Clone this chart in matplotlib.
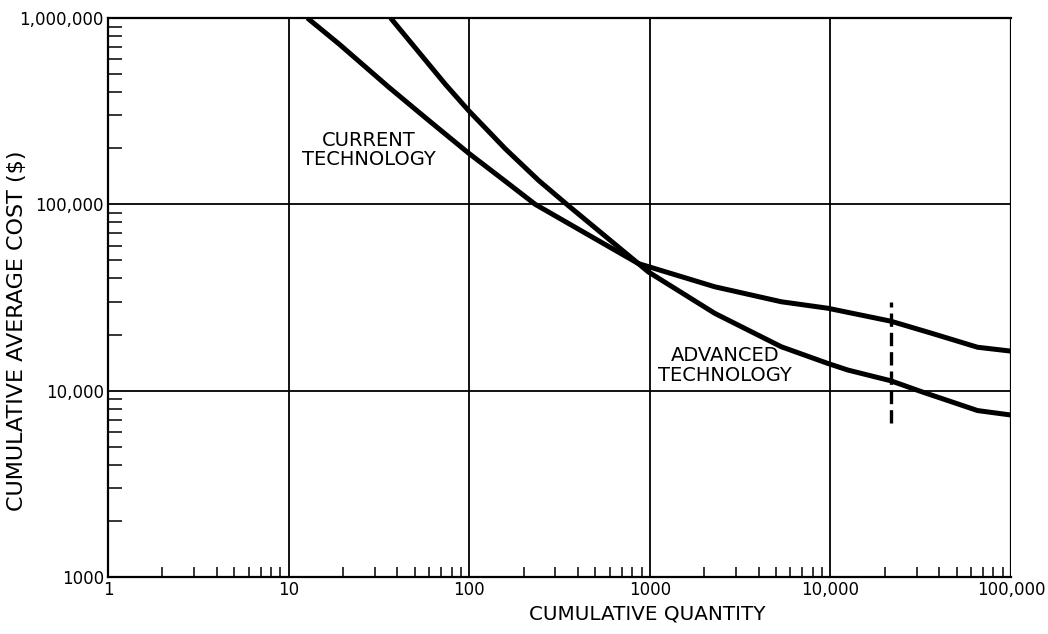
import matplotlib
matplotlib.use("Agg")
import matplotlib.pyplot as plt
from matplotlib.ticker import FixedLocator, LogLocator, NullFormatter

plt.rcParams['font.family'] = ['DejaVu Sans']

# Learning-curve estimates: cumulative quantity vs cumulative average cost ($)
current_qty = [12.7, 19.0, 35.9, 59.7, 99.4, 158.5, 232, 864, 2290, 5350,
               9660, 21600, 35900, 65300, 100000]
current_cost = [1000000, 726000, 425000, 282000, 188000, 133000, 100000,
                48100, 36100, 30000, 27700, 23600, 20400, 17100, 16300]

advanced_qty = [36.7, 54.8, 73.9, 99.4, 158.5, 242, 347, 864, 981, 2290,
                5350, 9680, 12500, 21600, 31800, 65300, 100000]
advanced_cost = [1000000, 625000, 440000, 318000, 198600, 134500, 100000,
                 48100, 43400, 26000, 17200, 14000, 12900, 11300, 9890,
                 7820, 7400]

# Dashed marker at the transition quantity
marker_qty = 21600
marker_cost_range = [6710, 29900]

x_ticks = [1, 10, 100, 1000, 10000, 100000]
x_tick_labels = ["1", "10", "100", "1000", "10,000", "100,000"]
y_ticks = [1000, 10000, 100000, 1000000]
y_tick_labels = ["1000", "10,000", "100,000", "1,000,000"]

fig = plt.figure(figsize=(10.48, 6.34), dpi=100)
ax = fig.add_axes([108 / 1048, 57 / 634, 903 / 1048, 559 / 634])
ax.set_xscale("log")
ax.set_yscale("log")
ax.set_xlim(1, 100000)
ax.set_ylim(1000, 1000000)

ax.plot(current_qty, current_cost, color="black", lw=3.6,
        solid_joinstyle="round", solid_capstyle="butt", zorder=3)
ax.plot(advanced_qty, advanced_cost, color="black", lw=3.6,
        solid_joinstyle="round", solid_capstyle="butt", zorder=3)
ax.plot([marker_qty, marker_qty], marker_cost_range, color="black",
        lw=2.4, dashes=(4.0, 1.8), zorder=3)

# Grid at the decades
for xv in x_ticks[1:-1]:
    ax.axvline(xv, color="black", lw=1.3, zorder=1)
ax.axvline(x_ticks[-1], color="black", lw=1.6, zorder=1)
for yv in y_ticks[1:-1]:
    ax.axhline(yv, color="black", lw=1.3, zorder=1)

for side in ["top", "bottom", "left", "right"]:
    ax.spines[side].set_linewidth(1.6)
ax.spines["right"].set_visible(False)

ax.xaxis.set_major_locator(FixedLocator(x_ticks))
ax.set_xticklabels(x_tick_labels)
ax.yaxis.set_major_locator(FixedLocator(y_ticks))
ax.set_yticklabels(y_tick_labels)
ax.xaxis.set_minor_locator(LogLocator(base=10, subs=range(2, 10)))
ax.yaxis.set_minor_locator(LogLocator(base=10, subs=range(2, 10)))
ax.xaxis.set_minor_formatter(NullFormatter())
ax.yaxis.set_minor_formatter(NullFormatter())

ax.tick_params(axis="both", which="major", length=0, labelsize=12, pad=3)
ax.tick_params(axis="x", which="minor", direction="in", length=7,
               width=1.1, top=False)
ax.tick_params(axis="y", which="minor", direction="in", length=10,
               width=1.1, right=False)

ax.set_xlabel("CUMULATIVE QUANTITY", fontsize=14.3)
ax.xaxis.set_label_coords(0.597, -0.05)
ax.set_ylabel("CUMULATIVE AVERAGE COST ($)", fontsize=16)
ax.yaxis.set_label_coords(-0.09, 0.44)

ax.text(27.8, 196000, "CURRENT\nTECHNOLOGY", ha="center", va="center",
        fontsize=14, linespacing=1.05)
ax.text(2610, 13700, "ADVANCED\nTECHNOLOGY", ha="center", va="center",
        fontsize=14, linespacing=1.05)

fig.savefig("out.png", dpi=100, facecolor="white")
